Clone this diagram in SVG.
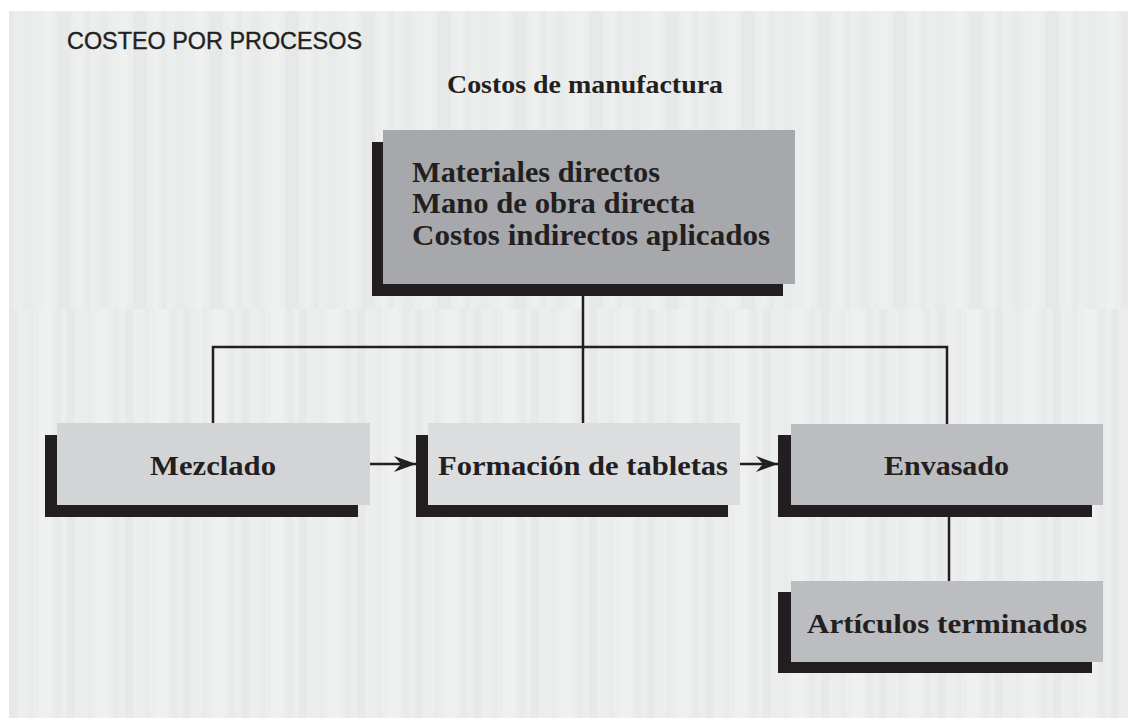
<svg xmlns="http://www.w3.org/2000/svg" width="1128" height="718" viewBox="0 0 1128 718">
<style>
.ser{font-family:"Liberation Serif","Times New Roman",serif;font-weight:bold;fill:#231f20;}
.lbl{font-size:28px;text-anchor:start;}
.shadow{fill:#231f20;}
.conn{stroke:#231f20;stroke-width:2.5;fill:none;}
</style>
<defs>
<pattern id="stA" x="9" y="0" width="76" height="718" patternUnits="userSpaceOnUse">
<rect x="0" y="0" width="5" height="718" fill="#e8e9e9"/>
<rect x="14" y="0" width="10" height="718" fill="#e9eaea"/>
<rect x="34" y="0" width="8" height="718" fill="#eff0f0"/>
<rect x="48" y="0" width="14" height="718" fill="#e7e8e8"/>
<rect x="68" y="0" width="4" height="718" fill="#eeefef"/>
</pattern>
<pattern id="stB" x="9" y="0" width="58" height="718" patternUnits="userSpaceOnUse">
<rect x="0" y="0" width="8" height="718" fill="#e7e8e8"/>
<rect x="20" y="0" width="4" height="718" fill="#e9eaea"/>
<rect x="30" y="0" width="12" height="718" fill="#eff0f0"/>
<rect x="46" y="0" width="6" height="718" fill="#e8e9e9"/>
</pattern>
<marker id="arr" markerUnits="userSpaceOnUse" markerWidth="24" markerHeight="20" refX="22" refY="9" orient="auto">
<path d="M0,1 L22,9 L0,17 L7,9 z" fill="#231f20"/>
</marker>
</defs>
<g id="background">
<rect x="9" y="11" width="1119" height="707" fill="#eceeee"/>
<rect x="9" y="11" width="1119" height="298" fill="url(#stA)"/>
<rect x="9" y="309" width="1119" height="409" fill="url(#stB)"/>
</g>
<g id="title">
<text x="67" y="49" font-family="'Liberation Sans',Arial,sans-serif" font-size="24" fill="#231f20" stroke="#231f20" stroke-width="0.4" textLength="295" lengthAdjust="spacingAndGlyphs">COSTEO POR PROCESOS</text>
</g>
<g id="subtitle">
<text class="ser" x="447" y="93" font-size="26" textLength="276" lengthAdjust="spacingAndGlyphs">Costos de manufactura</text>
</g>
<g id="connectors">
<line class="conn" x1="583" y1="296" x2="583" y2="423"/>
<polyline class="conn" points="213,423 213,347 947,347 947,424"/>
<line class="conn" x1="949" y1="517" x2="949" y2="581"/>
<line class="conn" x1="370" y1="464" x2="416" y2="464" marker-end="url(#arr)"/>
<line class="conn" x1="740" y1="464" x2="778" y2="464" marker-end="url(#arr)"/>
</g>
<g id="node-costos">
<rect class="shadow" x="372" y="142" width="411" height="154"/>
<rect x="383" y="130" width="412" height="154" fill="#a7a8ab"/>
<text class="ser" x="412" y="182" font-size="29" textLength="248" lengthAdjust="spacingAndGlyphs">Materiales directos</text>
<text class="ser" x="412" y="213" font-size="29" textLength="283" lengthAdjust="spacingAndGlyphs">Mano de obra directa</text>
<text class="ser" x="412" y="245" font-size="29" textLength="358" lengthAdjust="spacingAndGlyphs">Costos indirectos aplicados</text>
</g>
<g id="node-mezclado">
<rect class="shadow" x="45" y="435" width="313" height="82"/>
<rect x="57" y="423" width="313" height="82" fill="#d3d4d6"/>
<text class="ser lbl" x="150" y="475" textLength="126" lengthAdjust="spacingAndGlyphs">Mezclado</text>
</g>
<g id="node-formacion">
<rect class="shadow" x="416" y="435" width="312" height="82"/>
<rect x="428" y="423" width="312" height="82" fill="#dcdddf"/>
<text class="ser lbl" x="438" y="475" textLength="290" lengthAdjust="spacingAndGlyphs">Formación de tabletas</text>
</g>
<g id="node-envasado">
<rect class="shadow" x="778" y="435" width="314" height="82"/>
<rect x="791" y="424" width="312" height="81" fill="#bcbdc0"/>
<text class="ser lbl" x="884" y="475" textLength="125" lengthAdjust="spacingAndGlyphs">Envasado</text>
</g>
<g id="node-articulos">
<rect class="shadow" x="778" y="592" width="314" height="81"/>
<rect x="791" y="581" width="312" height="81" fill="#bcbdc0"/>
<text class="ser lbl" x="807" y="633" textLength="280" lengthAdjust="spacingAndGlyphs">Artículos terminados</text>
</g>
</svg>
